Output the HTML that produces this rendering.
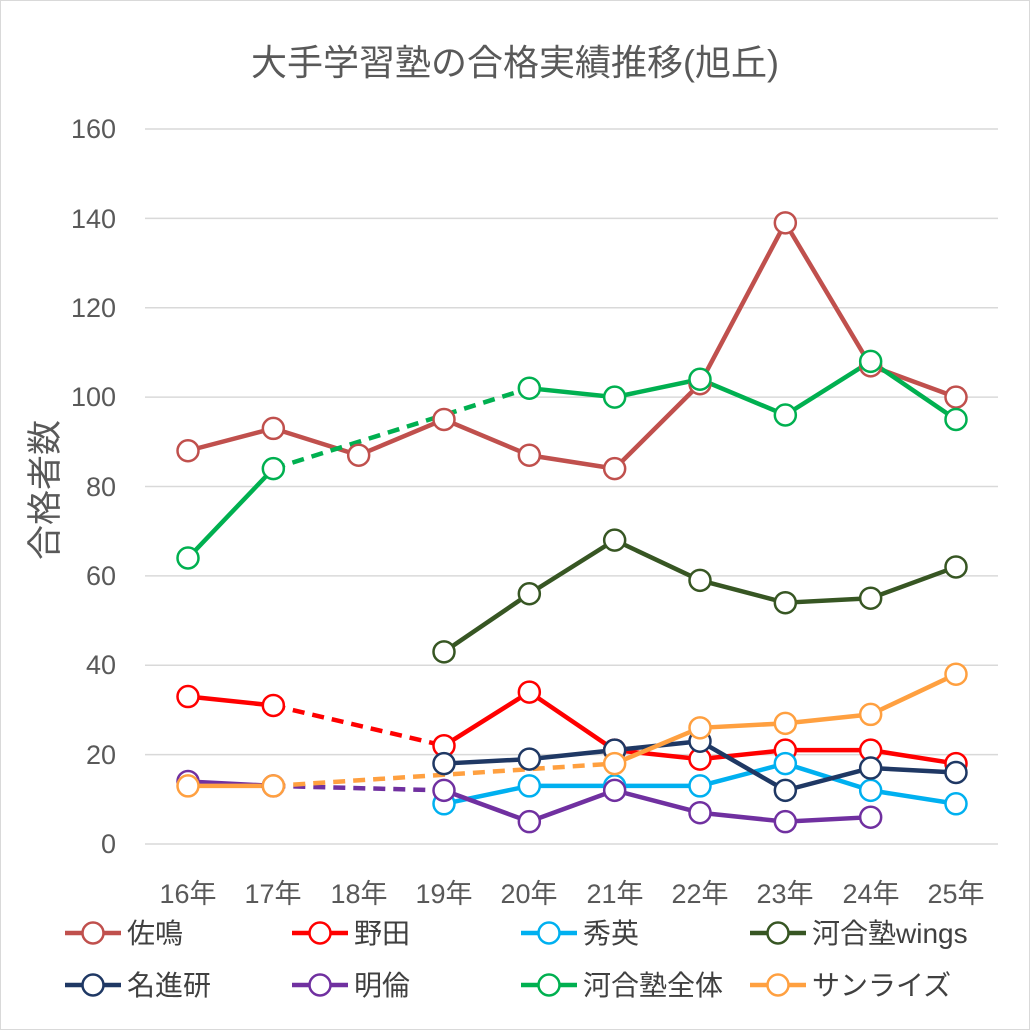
<!DOCTYPE html>
<html><head><meta charset="utf-8"><style>
body{margin:0;background:#fff}
svg{display:block;font-family:"Liberation Sans","Noto Sans CJK JP",sans-serif}
</style></head><body>
<svg width="1030" height="1030" viewBox="0 0 1030 1030" xmlns="http://www.w3.org/2000/svg">
<rect x="0.5" y="0.5" width="1029" height="1029" fill="#fff" stroke="#d9d9d9"/>
<text x="515" y="75" text-anchor="middle" font-size="36" fill="#595959">大手学習塾の合格実績推移(旭丘)</text>
<g stroke="#d9d9d9" stroke-width="1.5">
<line x1="145" x2="998" y1="129" y2="129"/><line x1="145" x2="998" y1="218.4" y2="218.4"/>
<line x1="145" x2="998" y1="307.8" y2="307.8"/><line x1="145" x2="998" y1="397.1" y2="397.1"/>
<line x1="145" x2="998" y1="486.5" y2="486.5"/><line x1="145" x2="998" y1="575.9" y2="575.9"/>
<line x1="145" x2="998" y1="665.3" y2="665.3"/><line x1="145" x2="998" y1="754.6" y2="754.6"/>
<line x1="145" x2="998" y1="844" y2="844"/>
</g>
<g font-size="27" fill="#595959" text-anchor="end">
<text x="116" y="138">160</text><text x="116" y="228">140</text><text x="116" y="317">120</text>
<text x="116" y="406">100</text><text x="116" y="496">80</text><text x="116" y="585">60</text>
<text x="116" y="674">40</text><text x="116" y="764">20</text><text x="116" y="853">0</text>
</g>
<g font-size="27" fill="#595959" text-anchor="middle">
<text x="188" y="903">16年</text><text x="273" y="903">17年</text><text x="359" y="903">18年</text>
<text x="444" y="903">19年</text><text x="529" y="903">20年</text><text x="615" y="903">21年</text>
<text x="700" y="903">22年</text><text x="785" y="903">23年</text><text x="871" y="903">24年</text>
<text x="956" y="903">25年</text>
</g>
<text transform="translate(57,490) rotate(-90)" text-anchor="middle" font-size="35" fill="#595959">合格者数</text>
<g id="plot" fill="none" stroke-width="4.5" stroke-linejoin="round"></g>
<g id="leg" font-size="28" fill="#404040"></g>
</svg>
<script>
const X=i=>188+i*85.333, Y=v=>844-v*4.46875;
const series=[
["佐鳴","#C0504D",[88,93,87,95,87,84,103,139,107,100],[]],
["野田","#FF0000",[33,31,null,22,34,21,19,21,21,18],[[1,3]]],
["秀英","#00B0F0",[null,null,null,9,13,13,13,18,12,9],[]],
["河合塾wings","#375623",[null,null,null,43,56,68,59,54,55,62],[]],
["名進研","#1F3864",[null,null,null,18,19,21,23,12,17,16],[]],
["明倫","#7030A0",[14,13,null,12,5,12,7,5,6,null],[[1,3]]],
["河合塾全体","#00B050",[64,84,null,null,102,100,104,96,108,95],[[1,4]]],
["サンライズ","#FFA040",[13,13,null,null,null,18,26,27,29,38],[[1,5]]]
];
const ns="http://www.w3.org/2000/svg",P=document.getElementById("plot"),L=document.getElementById("leg");
function el(t,a,p){const e=document.createElementNS(ns,t);for(const k in a)e.setAttribute(k,a[k]);p.appendChild(e);return e;}
series.forEach(([n,c,d,dash])=>{
 for(let i=0;i<d.length-1;i++){if(d[i]!=null&&d[i+1]!=null)el("line",{x1:X(i),y1:Y(d[i]),x2:X(i+1),y2:Y(d[i+1]),stroke:c,"stroke-linecap":"round"},P);}
 dash.forEach(([a,b])=>el("line",{x1:X(a),y1:Y(d[a]),x2:X(b),y2:Y(d[b]),stroke:c,"stroke-dasharray":"12 8"},P));
});
series.forEach(([n,c,d])=>{d.forEach((v,i)=>{if(v!=null)el("circle",{cx:X(i),cy:Y(v),r:10.5,fill:"#fff",stroke:c,"stroke-width":2.5},P);});});
const lx=[65,292,521,750];
series.forEach(([n,c],k)=>{const x=lx[k%4],y=k<4?933:985;
 el("line",{x1:x,y1:y,x2:x+56,y2:y,stroke:c,"stroke-width":4.5},L);
 el("circle",{cx:x+28,cy:y,r:10.5,fill:"#fff",stroke:c,"stroke-width":2.5},L);
 const t=el("text",{x:x+62,y:y+10},L);t.textContent=n;});
</script>
</body></html>
